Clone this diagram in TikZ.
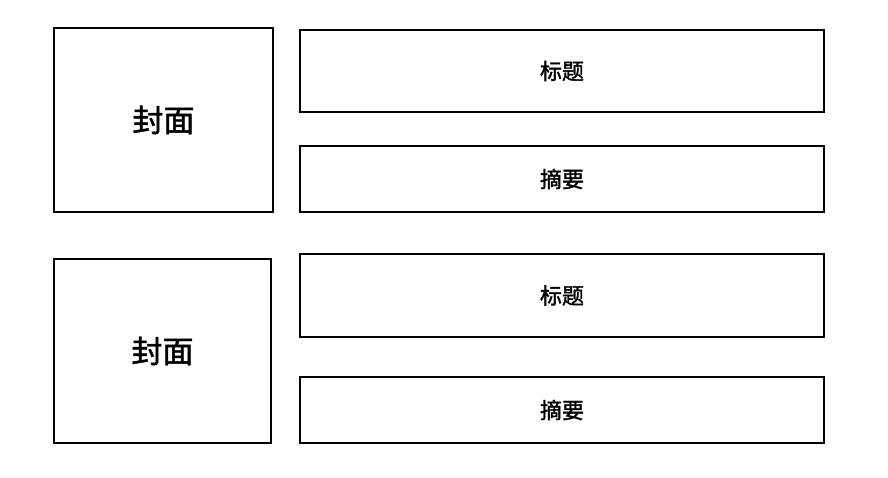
\documentclass[tikz,border=0pt]{standalone}
\usepackage{fontspec}
\newfontfamily\cjk[FakeBold=1.5]{Noto Sans CJK SC}
\begin{document}
\begin{tikzpicture}[x=1pt,y=-1pt,
  bx/.style={draw=black,line width=2.4pt,inner sep=0pt},
  big/.style={font=\cjk\fontsize{31}{34}\selectfont},
  small/.style={font=\cjk\fontsize{22}{25}\selectfont}]
\useasboundingbox (0,0) rectangle (888,478);
\node[bx,big,minimum width=219pt,minimum height=184pt] (c1) at (163.5,120) {封面};
\node[bx,small,minimum width=524pt,minimum height=82pt] (t1) at (562,71) {标题};
\node[bx,small,minimum width=524pt,minimum height=66pt] (a1) at (562,179) {摘要};
\node[bx,big,minimum width=217pt,minimum height=184pt] (c2) at (162.5,351) {封面};
\node[bx,small,minimum width=524pt,minimum height=83pt] (t2) at (562,295.5) {标题};
\node[bx,small,minimum width=524pt,minimum height=66pt] (a2) at (562,410) {摘要};
\end{tikzpicture}
\end{document}
